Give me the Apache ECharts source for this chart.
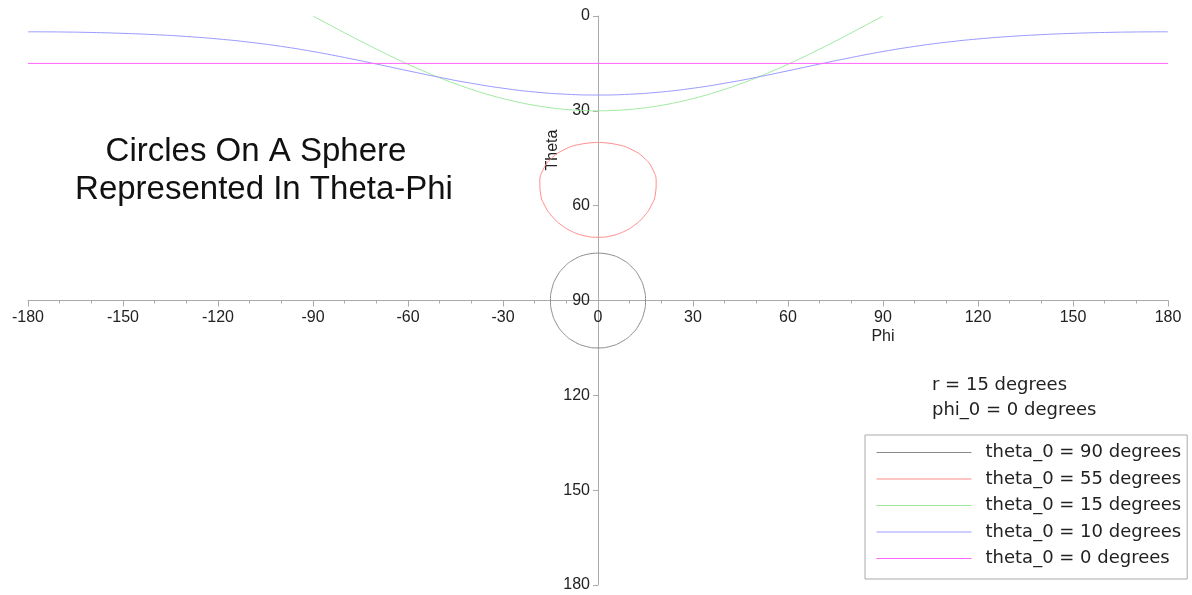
<!DOCTYPE html>
<html>
<head>
<meta charset="utf-8">
<script src="https://cdn.jsdelivr.net/npm/echarts@6/dist/echarts.min.js"></script>
<style>
  html, body { margin: 0; padding: 0; background: #fff; }
  #main { width: 1192px; height: 595px; }
</style>
</head>
<body>
<div id="main"></div>
<script>
// axis ranges / ticks
const phiTicks = [-180, -150, -120, -90, -60, -30, 0, 30, 60, 90, 120, 150, 180]
const thetaTicks = [0, 30, 60, 90, 120, 150, 180]

// theta_0 = 90
const phiBlack = [0, 3.97, 7.63, 10.73, 13.06, 14.51, 15, 14.51, 13.06, 10.73, 7.63, 3.97, 0,
  -3.97, -7.63, -10.73, -13.06, -14.51, -15, -14.51, -13.06, -10.73, -7.63, -3.97, 0]
const thetaBlack = [75, 75.52, 77.05, 79.45, 82.56, 86.16, 90, 93.84, 97.44, 100.55, 102.95, 104.48, 105,
  104.48, 102.95, 100.55, 97.44, 93.84, 90, 86.16, 82.56, 79.45, 77.05, 75.52, 75]

// theta_0 = 55
const phiRed = [0, 5.91, 11.05, 14.93, 17.36, 18.37, 18.11, 16.77, 14.52, 11.54, 8.01, 4.10, 0,
  -4.10, -8.01, -11.54, -14.52, -16.77, -18.11, -18.37, -17.36, -14.93, -11.05, -5.91, 0]
const thetaRed = [40, 40.64, 42.47, 45.25, 48.70, 52.49, 56.36, 60.06, 63.38, 66.16, 68.26, 69.56, 70,
  69.56, 68.26, 66.16, 63.38, 60.06, 56.36, 52.49, 48.70, 45.25, 42.47, 40.64, 40]

// theta_0 = 15
const phiGreen = [-90, -85, -80, -75, -70, -65, -60, -55, -50, -45, -40, -35, -30, -25, -20, -15, -10, -5, 0,
  5, 10, 15, 20, 25, 30, 35, 40, 45, 50, 55, 60, 65, 70, 75, 80, 85, 90]
const thetaGreen = [0, 2.68, 5.33, 7.93, 10.47, 12.92, 15.26, 17.47, 19.54, 21.46, 23.20, 24.76, 26.13, 27.30, 28.27, 29.02, 29.57, 29.87, 30,
  29.87, 29.57, 29.02, 28.27, 27.30, 26.13, 24.76, 23.20, 21.46, 19.54, 17.47, 15.26, 12.92, 10.47, 7.93, 5.33, 2.68, 0]

// theta_0 = 10
const phiBlue = [-180, -170, -160, -150, -140, -130, -120, -110, -100, -90, -80, -70, -60, -50, -40, -30, -20, -10, 0,
  10, 20, 30, 40, 50, 60, 70, 80, 90, 100, 110, 120, 130, 140, 150, 160, 170, 180]
const thetaBlue = [5.00, 5.05, 5.21, 5.49, 5.90, 6.48, 7.26, 8.30, 9.62, 11.24, 13.13, 15.20, 17.33, 19.41, 21.28, 22.85, 24.03, 24.75, 25,
  24.75, 24.03, 22.85, 21.28, 19.41, 17.33, 15.20, 13.13, 11.24, 9.62, 8.30, 7.26, 6.48, 5.90, 5.49, 5.21, 5.05, 5.00]

// theta_0 = 0
const phiMagenta = [-180, 180]
const thetaMagenta = [15, 15]

const zip = (xs, ys) => xs.map((x, i) => [x, ys[i]])

const font = 'Liberation Sans, Arial, sans-serif'
const wideFont = 'DejaVu Sans, sans-serif'
const axisColor = '#aaa'
const phiMin = phiTicks[0], phiMax = phiTicks[phiTicks.length - 1]
const thetaMin = thetaTicks[0], thetaMax = thetaTicks[thetaTicks.length - 1]

const chart = echarts.init(document.getElementById('main'))

function curve(name, color, xs, ys, smooth) {
  return {
    name: name,
    type: 'line',
    symbol: 'none',
    smooth: smooth,
    xAxisIndex: 0,
    yAxisIndex: 0,
    lineStyle: { color: color, width: 1 },
    itemStyle: { color: color },
    data: zip(xs, ys)
  }
}

const hidden = { show: false, splitLine: { show: false } }

chart.setOption({
  animation: false,
  backgroundColor: '#fff',
  grid: [
    // plot area
    { left: 28, right: 24, top: 16, bottom: 10, outerBoundsMode: 'none' },
    // Phi axis, its bottom edge sits at theta = 90
    { left: 28, right: 24, top: 16, height: 284.5, outerBoundsMode: 'none' },
    // Theta axis, its left edge sits at phi = 0
    { left: 598, width: 1, top: 16, bottom: 10, outerBoundsMode: 'none' }
  ],
  xAxis: [
    Object.assign({ type: 'value', gridIndex: 0, min: phiMin, max: phiMax }, hidden),
    {
      type: 'value',
      gridIndex: 1,
      position: 'bottom',
      min: phiMin,
      max: phiMax,
      interval: 30,
      axisLine: { onZero: false, lineStyle: { color: axisColor, width: 1 } },
      axisTick: { length: 6, lineStyle: { color: axisColor } },
      minorTick: { show: true, splitNumber: 3, length: 3, lineStyle: { color: axisColor } },
      axisLabel: { fontFamily: font, fontSize: 16, color: '#222', margin: 9 },
      splitLine: { show: false }
    },
    Object.assign({ type: 'value', gridIndex: 2, min: 0, max: 1 }, hidden)
  ],
  yAxis: [
    Object.assign({ type: 'value', gridIndex: 0, inverse: true, min: thetaMin, max: thetaMax }, hidden),
    Object.assign({ type: 'value', gridIndex: 1, min: 0, max: 1 }, hidden),
    {
      type: 'value',
      gridIndex: 2,
      position: 'left',
      inverse: true,
      min: thetaMin,
      max: thetaMax,
      interval: 30,
      axisLine: { show: true, onZero: false, lineStyle: { color: axisColor, width: 1 } },
      axisTick: { show: true, length: 5, lineStyle: { color: axisColor } },
      axisLabel: { fontFamily: font, fontSize: 16, color: '#222', margin: 8 },
      splitLine: { show: false }
    }
  ],
  legend: {
    orient: 'vertical',
    left: 865,
    top: 435,
    padding: [8.5, 6, 11.5, 11],
    itemWidth: 95,
    itemHeight: 13,
    itemGap: 8.5,
    borderColor: '#aaa',
    borderWidth: 1,
    itemStyle: { opacity: 0 },
    lineStyle: { width: 1 },
    textStyle: { fontFamily: wideFont, fontSize: 18, lineHeight: 18, color: '#222', padding: [0, 0, 0, 9] },
    data: ['theta_0 = 90 degrees', 'theta_0 = 55 degrees', 'theta_0 = 15 degrees',
      'theta_0 = 10 degrees', 'theta_0 = 0 degrees']
  },
  graphic: [
    { type: 'text', x: 256, y: 152, style: { text: 'Circles On A Sphere', font: '33px ' + font, fill: '#111', align: 'center', verticalAlign: 'middle' } },
    { type: 'text', x: 264, y: 190, style: { text: 'Represented In Theta-Phi', font: '33px ' + font, fill: '#111', align: 'center', verticalAlign: 'middle' } },
    { type: 'text', x: 932, y: 385, style: { text: 'r = 15 degrees', font: '18px ' + wideFont, fill: '#222', verticalAlign: 'middle' } },
    { type: 'text', x: 932, y: 410, style: { text: 'phi_0 = 0 degrees', font: '18px ' + wideFont, fill: '#222', verticalAlign: 'middle' } },
    { type: 'text', x: 883, y: 337, style: { text: 'Phi', font: '16px ' + font, fill: '#222', align: 'center', verticalAlign: 'middle' } },
    { type: 'text', x: 553, y: 150, rotation: Math.PI / 2, style: { text: 'Theta', font: '16px ' + font, fill: '#222', align: 'center', verticalAlign: 'middle' } }
  ],
  series: [
    curve('theta_0 = 90 degrees', '#8a8a8a', phiBlack, thetaBlack, true),
    curve('theta_0 = 55 degrees', '#ff8c8c', phiRed, thetaRed, true),
    curve('theta_0 = 15 degrees', '#9ee89e', phiGreen, thetaGreen, true),
    curve('theta_0 = 10 degrees', '#9a9aff', phiBlue, thetaBlue, true),
    curve('theta_0 = 0 degrees', '#ff66ff', phiMagenta, thetaMagenta, false)
  ]
})
</script>
</body>
</html>
